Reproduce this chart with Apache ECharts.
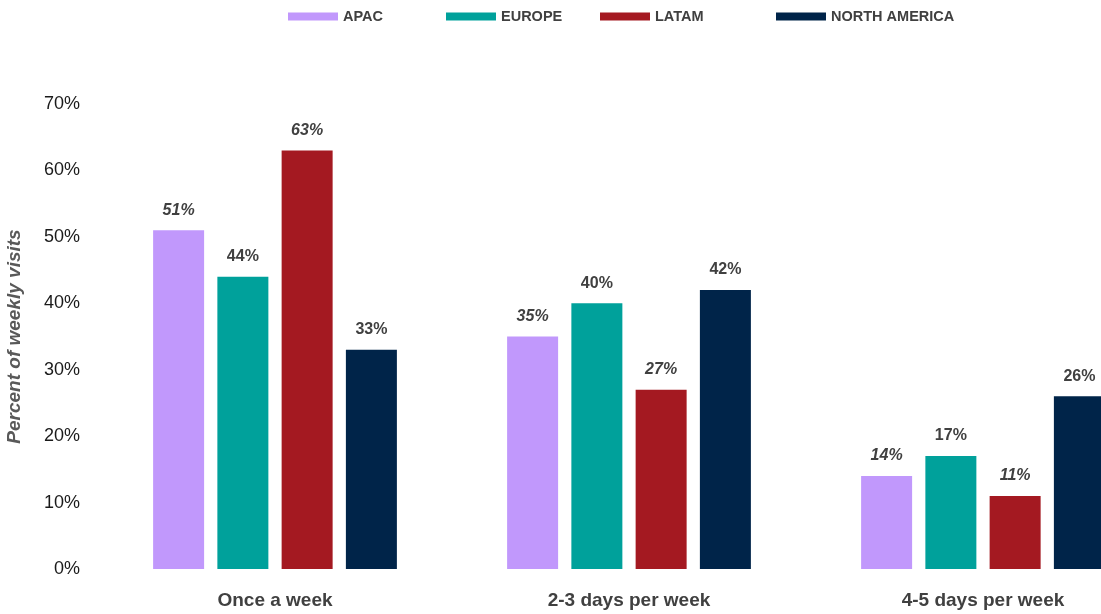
<!DOCTYPE html>
<html>
<head>
<meta charset="utf-8">
<script src="https://cdn.jsdelivr.net/npm/echarts@6/dist/echarts.min.js"></script>
<style>
html,body{margin:0;padding:0;background:#fff;}
#chart{width:1101px;height:614px;}
</style>
</head>
<body>
<div id="chart"></div>
<script>
const categories = ['Once a week', '2-3 days per week', '4-5 days per week'];
const seriesNames = ['APAC', 'EUROPE', 'LATAM', 'NORTH AMERICA'];
const apac = [51, 35, 14];
const europe = [44, 40, 17];
const latam = [63, 27, 11];
const northAmerica = [33, 42, 26];
const yTicks = [0, 10, 20, 30, 40, 50, 60, 70];
const yTitle = 'Percent of weekly visits';

const colors = ['#C198FC', '#00A19B', '#A41921', '#002449'];
const italicSeries = [true, false, true, false];
const values = [apac, europe, latam, northAmerica];
const legendLeft = [283, 441, 595, 771];
const FONT = '"Liberation Sans", Arial, sans-serif';

const chart = echarts.init(document.getElementById('chart'), null, {renderer: 'canvas'});
const option = {
  animation: false,
  backgroundColor: '#ffffff',
  textStyle: {fontFamily: FONT},
  legend: seriesNames.map((n, i) => ({
    data: [n],
    left: legendLeft[i],
    top: 4,
    icon: 'rect',
    itemWidth: 50,
    itemHeight: 8,
    itemGap: 10,
    textStyle: {color: '#404040', fontWeight: 'bold', fontSize: 14.5, fontFamily: FONT}
  })),
  grid: {left: 98, top: 104, width: 1062, height: 465, containLabel: false, outerBoundsMode: 'none'},
  xAxis: {
    type: 'category',
    data: categories,
    axisLine: {show: false},
    axisTick: {show: false},
    axisLabel: {color: '#404040', fontWeight: 'bold', fontSize: 19, margin: 22, fontFamily: FONT}
  },
  yAxis: {
    type: 'value',
    min: yTicks[0],
    max: yTicks[yTicks.length - 1],
    interval: 10,
    name: yTitle,
    nameLocation: 'middle',
    nameGap: 74,
    nameRotate: 90,
    nameTextStyle: {color: '#595959', fontWeight: 'bold', fontStyle: 'italic', fontSize: 19, fontFamily: FONT},
    axisLine: {show: false},
    axisTick: {show: false},
    splitLine: {show: false},
    axisLabel: {color: '#1a1a1a', fontSize: 18, margin: 18, formatter: v => v + '%', fontFamily: FONT}
  },
  series: seriesNames.map((n, i) => ({
    name: n,
    type: 'bar',
    data: values[i],
    barWidth: 51,
    barGap: '26%',
    itemStyle: {color: colors[i]},
    label: {
      show: true,
      position: 'top',
      distance: 12,
      formatter: p => p.value + '%',
      color: '#404040',
      fontWeight: 'bold',
      fontStyle: italicSeries[i] ? 'italic' : 'normal',
      fontSize: 16,
      fontFamily: FONT
    }
  }))
};
chart.setOption(option);
</script>
</body>
</html>
